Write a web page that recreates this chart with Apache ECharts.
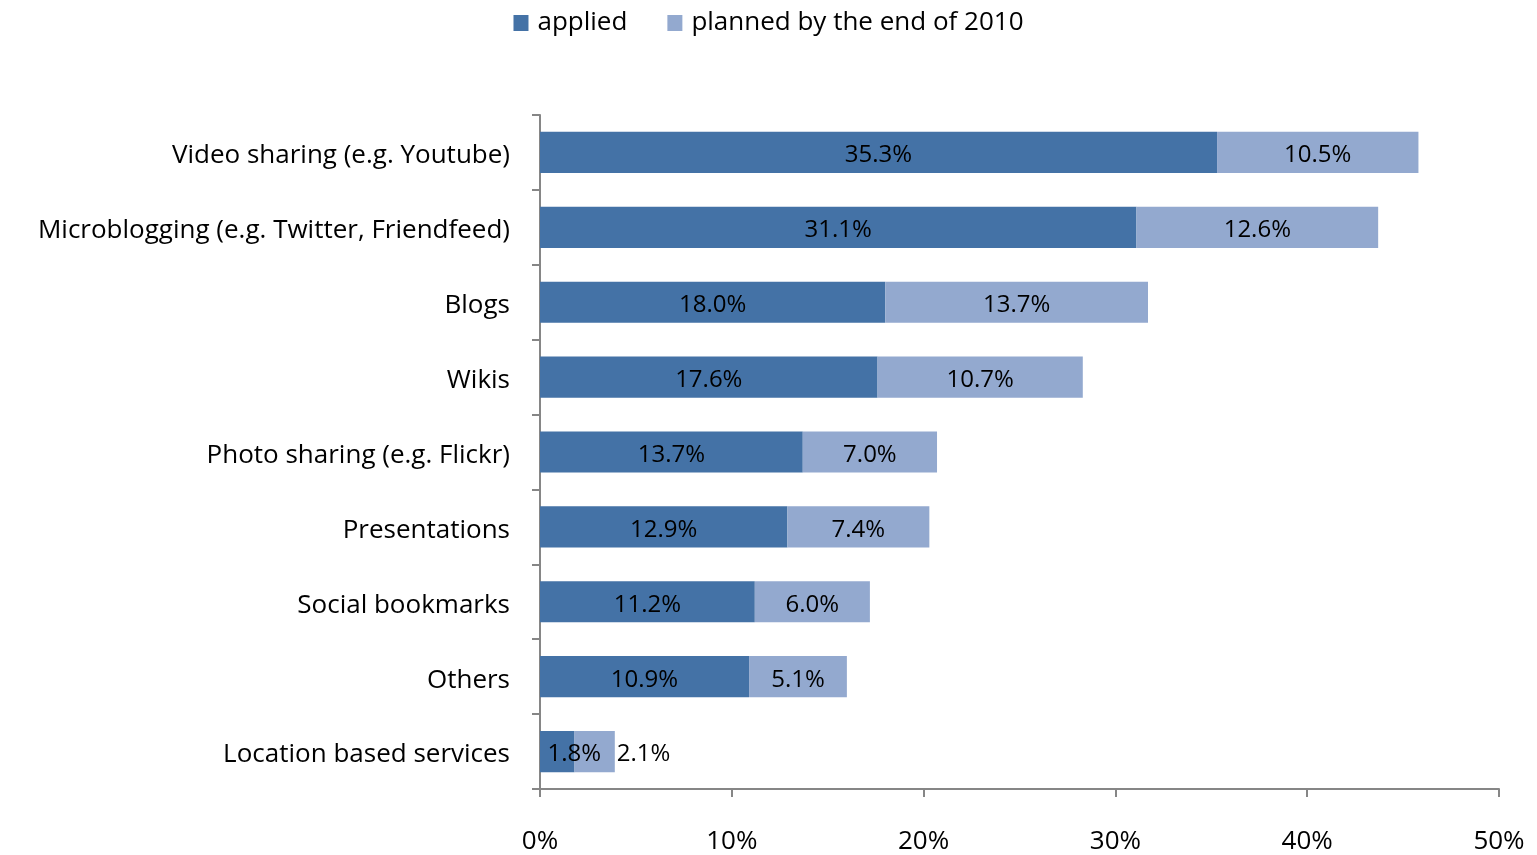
<!DOCTYPE html>
<html><head><meta charset="utf-8">
<script src="https://cdn.jsdelivr.net/npm/echarts@6/dist/echarts.min.js"></script>
<style>html,body{margin:0;padding:0;background:#fff}#c{width:1537px;height:855px}</style>
</head><body><div id="c"></div>
<script>
const categories = ["Video sharing (e.g. Youtube)","Microblogging (e.g. Twitter, Friendfeed)","Blogs","Wikis","Photo sharing (e.g. Flickr)","Presentations","Social bookmarks","Others","Location based services"];
const applied = [35.3,31.1,18.0,17.6,13.7,12.9,11.2,10.9,1.8];
const planned = [10.5,12.6,13.7,10.7,7.0,7.4,6.0,5.1,2.1];
const seriesNames = ["applied","planned by the end of 2010"];
const xTicks = [0,10,20,30,40,50];

const FONT = 'Open Sans';
const chart = echarts.init(document.getElementById('c'));
const cats = categories.slice().reverse();
const a = applied.slice().reverse();
const p = planned.slice().reverse();
const aData = a.map((v,i)=> i===0 ? {value:v,label:{offset:[17,3]}} : v);
const pData = p.map((v,i)=> i===0 ? {value:v,label:{position:'right',distance:2,offset:[0,3]}} : v);
chart.setOption({
  animation:false,
  textStyle:{fontFamily:FONT,color:'#000'},
  legend:{top:5,left:'center',itemWidth:15,itemHeight:16,itemGap:40,icon:'rect',
    textStyle:{fontSize:26,fontFamily:FONT,color:'#000',padding:[0,0,0,4]},data:seriesNames},
  grid:{left:540,right:38,top:115,bottom:66,containLabel:false},
  xAxis:{type:'value',min:xTicks[0],max:xTicks[xTicks.length-1],interval:10,
    axisLine:{show:true,lineStyle:{color:'#868686',width:2}},
    axisTick:{show:true,length:8,lineStyle:{color:'#868686',width:2}},
    splitLine:{show:false},
    axisLabel:{margin:40,fontSize:26,fontFamily:FONT,color:'#000',formatter:v=>v+'%'}},
  yAxis:{type:'category',data:cats,
    axisLine:{show:true,lineStyle:{color:'#868686',width:2}},
    axisTick:{show:true,length:8,alignWithLabel:false,lineStyle:{color:'#868686',width:2}},
    axisLabel:{margin:30,fontSize:26,fontFamily:FONT,color:'#000',
      formatter:v=>'{t|'+v+'}',
      rich:{t:{fontSize:26,fontFamily:FONT,color:'#000',padding:[7,0,0,0]}}}},
  series:[
    {name:seriesNames[0],type:'bar',stack:'s',data:aData,barWidth:'55%',
     itemStyle:{color:'#4472A6'},
     label:{show:true,position:'inside',offset:[0,3],fontSize:24,fontFamily:FONT,color:'#000',formatter:d=>d.value.toFixed(1)+'%'}},
    {name:seriesNames[1],type:'bar',stack:'s',data:pData,barWidth:'55%',
     itemStyle:{color:'#93A9CF'},
     label:{show:true,position:'inside',offset:[0,3],fontSize:24,fontFamily:FONT,color:'#000',formatter:d=>d.value.toFixed(1)+'%'}}
  ]
});
</script></body></html>
